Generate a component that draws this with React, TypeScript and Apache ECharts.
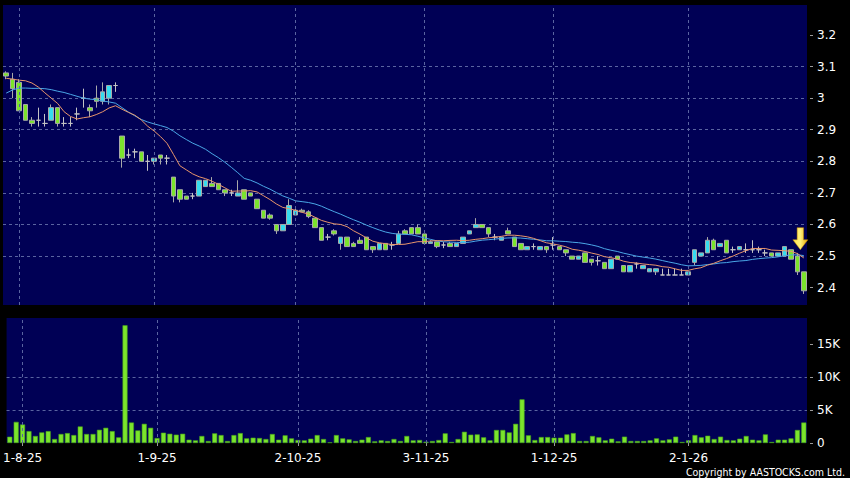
import React, { useEffect, useRef } from "react";
import * as echarts from "echarts";

// ---- Trading days (day numbers per month) ----
const jul25 = [30, 31];
const aug25 = [1, 4, 5, 6, 7, 8, 11, 12, 13, 14, 15, 18, 19, 20, 21, 22, 25, 26, 27, 28, 29];
const sep25 = [1, 2, 3, 4, 5, 8, 9, 10, 11, 12, 15, 16, 17, 18, 19, 22, 23, 24, 25, 26, 29, 30];
const oct25 = [2, 3, 6, 8, 9, 10, 13, 14, 15, 16, 17, 20, 21, 22, 23, 24, 27, 28, 30, 31];
const nov25 = [3, 4, 5, 6, 7, 10, 11, 12, 13, 14, 17, 18, 19, 20, 21, 24, 25, 26, 27, 28];
const dec25 = [1, 2, 3, 4, 5, 8, 9, 10, 11, 12, 15, 16, 17, 18, 19, 22, 23, 24, 29, 30, 31];
const jan26 = [2, 5, 6, 7, 8, 9, 12, 13, 14, 15, 16, 19, 20, 21, 22, 23, 26, 27, 28];

const categories: string[] = [
  ...jul25.map((d) => `${d}-7-25`),
  ...aug25.map((d) => `${d}-8-25`),
  ...sep25.map((d) => `${d}-9-25`),
  ...oct25.map((d) => `${d}-10-25`),
  ...nov25.map((d) => `${d}-11-25`),
  ...dec25.map((d) => `${d}-12-25`),
  ...jan26.map((d) => `${d}-1-26`),
];

const xTickLabels = ["1-8-25", "1-9-25", "2-10-25", "3-11-25", "1-12-25", "2-1-26"];
const priceTicks = [2.4, 2.5, 2.6, 2.7, 2.8, 2.9, 3.0, 3.1, 3.2];
const volumeTicks = [0, 5, 10, 15];

// ---- OHLC ----
const opens = [
  3.08, 3.06, 3.05, 2.98, 2.93, 2.93, 2.92, 2.93, 2.97, 2.92,
  2.92, 2.95, 3.0, 2.97, 3.0, 2.99, 3.0, 3.04, 2.88, 2.82,
  2.83, 2.83, 2.8, 2.8, 2.82, 2.81, 2.75, 2.71, 2.69, 2.69,
  2.69, 2.72, 2.73, 2.73, 2.71, 2.7, 2.69, 2.71, 2.7, 2.68,
  2.645, 2.63, 2.6, 2.58, 2.6, 2.63, 2.645, 2.64, 2.62, 2.59,
  2.56, 2.58, 2.54, 2.56, 2.54, 2.55, 2.56, 2.53, 2.52, 2.54,
  2.535, 2.54, 2.58, 2.59, 2.59, 2.57, 2.54, 2.545, 2.535, 2.54,
  2.53, 2.54, 2.57, 2.59, 2.6, 2.59, 2.56, 2.55, 2.58, 2.56,
  2.54, 2.52, 2.53, 2.52, 2.53, 2.535, 2.53, 2.52, 2.5, 2.49,
  2.51, 2.49, 2.485, 2.48, 2.46, 2.5, 2.47, 2.45, 2.475, 2.46,
  2.45, 2.45, 2.44, 2.44, 2.44, 2.44, 2.44, 2.48, 2.5, 2.51,
  2.55, 2.53, 2.55, 2.52, 2.52, 2.52, 2.52, 2.52, 2.51, 2.51,
  2.5, 2.5, 2.52, 2.5, 2.45,
];
const closes = [
  3.07, 3.03, 2.96, 2.93, 2.92, 2.93, 2.92, 2.97, 2.92, 2.92,
  2.92, 2.95, 3.0, 2.96, 2.99, 3.02, 3.04, 3.04, 2.81, 2.82,
  2.83, 2.8, 2.8, 2.81, 2.81, 2.81, 2.69, 2.68, 2.68, 2.69,
  2.74, 2.74, 2.72, 2.71, 2.7, 2.7, 2.7, 2.68, 2.69, 2.65,
  2.62, 2.62, 2.58, 2.6, 2.66, 2.645, 2.64, 2.625, 2.59, 2.55,
  2.56, 2.57, 2.56, 2.53, 2.53, 2.54, 2.52, 2.52, 2.54, 2.52,
  2.535, 2.57, 2.57, 2.57, 2.57, 2.54, 2.545, 2.53, 2.535, 2.53,
  2.54, 2.56, 2.58, 2.6, 2.59, 2.57, 2.56, 2.56, 2.57, 2.53,
  2.52, 2.53, 2.53, 2.53, 2.52, 2.535, 2.52, 2.51, 2.49, 2.5,
  2.48, 2.48, 2.485, 2.46, 2.49, 2.49, 2.45, 2.47, 2.475, 2.47,
  2.46, 2.46, 2.44, 2.44, 2.44, 2.44, 2.45, 2.52, 2.51, 2.55,
  2.52, 2.54, 2.51, 2.52, 2.53, 2.52, 2.52, 2.52, 2.51, 2.5,
  2.51, 2.53, 2.49, 2.45, 2.39,
];
const lows = [
  3.06, 3.0, 2.96, 2.93, 2.91, 2.91, 2.91, 2.93, 2.91, 2.91,
  2.91, 2.93, 2.97, 2.94, 2.97, 2.98, 2.98, 3.02, 2.78, 2.81,
  2.81, 2.8, 2.77, 2.79, 2.79, 2.79, 2.67, 2.67, 2.68, 2.68,
  2.69, 2.72, 2.72, 2.71, 2.69, 2.69, 2.69, 2.68, 2.69, 2.65,
  2.62, 2.615, 2.57, 2.58, 2.6, 2.63, 2.64, 2.62, 2.59, 2.55,
  2.55, 2.565, 2.52, 2.53, 2.53, 2.54, 2.52, 2.51, 2.52, 2.52,
  2.52, 2.54, 2.57, 2.57, 2.57, 2.54, 2.54, 2.525, 2.525, 2.53,
  2.53, 2.54, 2.57, 2.59, 2.59, 2.56, 2.55, 2.55, 2.57, 2.53,
  2.52, 2.52, 2.52, 2.52, 2.51, 2.52, 2.52, 2.5, 2.49, 2.49,
  2.48, 2.47, 2.47, 2.46, 2.46, 2.49, 2.45, 2.45, 2.46, 2.46,
  2.45, 2.44, 2.44, 2.44, 2.44, 2.44, 2.44, 2.47, 2.5, 2.51,
  2.52, 2.53, 2.51, 2.51, 2.52, 2.51, 2.51, 2.51, 2.5, 2.5,
  2.5, 2.5, 2.49, 2.44, 2.38,
];
const highs = [
  3.085, 3.08, 3.06, 2.98, 2.94, 2.97, 2.95, 2.98, 2.97, 2.94,
  2.94, 2.97, 3.03, 2.98, 3.04, 3.05, 3.04, 3.05, 2.88, 2.84,
  2.84, 2.83, 2.82, 2.81, 2.82, 2.82, 2.75, 2.71, 2.69, 2.7,
  2.74, 2.74, 2.75, 2.73, 2.71, 2.71, 2.74, 2.71, 2.7, 2.68,
  2.645, 2.635, 2.6, 2.6, 2.68, 2.65, 2.65, 2.645, 2.62, 2.59,
  2.57, 2.585, 2.56, 2.56, 2.545, 2.56, 2.56, 2.53, 2.54, 2.54,
  2.545, 2.58, 2.585, 2.59, 2.6, 2.57, 2.55, 2.545, 2.545, 2.545,
  2.54, 2.56, 2.58, 2.62, 2.6, 2.59, 2.57, 2.56, 2.59, 2.56,
  2.54, 2.53, 2.54, 2.53, 2.53, 2.56, 2.53, 2.52, 2.5, 2.5,
  2.51, 2.49, 2.5, 2.48, 2.49, 2.5, 2.47, 2.47, 2.48, 2.47,
  2.46, 2.46, 2.46, 2.46, 2.46, 2.46, 2.45, 2.52, 2.51, 2.56,
  2.555, 2.54, 2.55, 2.53, 2.53, 2.54, 2.55, 2.53, 2.52, 2.51,
  2.51, 2.53, 2.52, 2.51, 2.45,
];

// ---- Volume (thousands of shares) ----
const volumesK = [
  0.95, 3.2, 2.8, 1.8, 1.06, 1.6, 1.8, 0.6, 1.36, 1.5,
  1.2, 2.5, 1.36, 1.36, 2.0, 2.3, 1.8, 0.85, 17.8, 3.1,
  1.9, 2.9, 2.3, 0.75, 1.56, 1.4, 1.26, 1.4, 0.5, 0.4,
  1.06, 0.3, 1.46, 1.2, 0.3, 1.2, 1.5, 0.7, 0.8, 0.75,
  0.6, 1.36, 0.5, 1.16, 0.7, 0.45, 0.4, 0.65, 1.2, 0.6,
  0.1, 1.2, 0.7, 0.55, 0.3, 0.5, 0.9, 0.25, 0.4, 0.3,
  0.6, 0.3, 1.06, 0.4, 0.45, 0.2, 0.3, 0.45, 1.46, 0.15,
  0.6, 1.7, 1.26, 1.3, 0.86, 0.4, 1.97, 1.97, 1.6, 2.9,
  6.6, 1.16, 0.45, 0.9, 0.9, 0.8, 0.8, 1.3, 1.5, 0.3,
  0.3, 1.06, 0.86, 0.4, 0.65, 0.25, 0.96, 0.3, 0.3, 0.3,
  0.4, 0.7, 0.4, 0.55, 0.96, 0.15, 0.4, 1.2, 0.86, 1.1,
  0.6, 0.96, 0.45, 0.4, 0.65, 1.06, 0.5, 0.4, 1.3, 0.15,
  0.5, 0.5, 0.7, 1.97, 3.1,
];

// Moving-average values for the first bars (before a full window exists)
const ma10Lead = [3.063, 3.06, 3.057, 3.055, 3.048, 3.035, 3.017, 3.0, 2.983];
const ma20Lead = [
  3.016, 3.026, 3.032, 3.032, 3.031, 3.031, 3.03, 3.027, 3.022, 3.018,
  3.012, 3.006, 3.0, 2.997, 2.995, 2.991, 2.988, 2.984, 2.97,
];

function movingAverage(win: number, lead: number[]) {
  return closes.map((_, i) => {
    if (i < win - 1) return lead[i];
    let s = 0;
    for (let k = i - win + 1; k <= i; k++) s += closes[k];
    return +(s / win).toFixed(4);
  });
}

const NAVY = "#000055";
const LIME = "#7be42c";
const CYAN = "#36dcef";
const GRID = "#5a64a0";
const FONT = "DejaVu Sans";

export default function App() {
  const ref = useRef<HTMLDivElement>(null);

  useEffect(() => {
    document.body.style.margin = "0";
    document.body.style.background = "#000";
    if (!ref.current) return;
    const chart = echarts.init(ref.current, null, { renderer: "svg" });

    const ma10 = movingAverage(10, ma10Lead);
    const ma20 = movingAverage(20, ma20Lead);
    const candleData = categories.map((_, i) => [opens[i], closes[i], lows[i], highs[i]]);
    const showLabel = (_i: number, v: string) => xTickLabels.includes(v);

    const gridLine = { color: GRID, width: 1, type: [3, 3] as number[] };
    const vLines = {
      silent: true,
      symbol: ["none", "none"],
      label: { show: false },
      lineStyle: gridLine,
      emphasis: { disabled: true },
      data: xTickLabels.map((l) => ({ xAxis: l })),
    };

    const arrowGradient = new echarts.graphic.LinearGradient(0, 0, 1, 0, [
      { offset: 0, color: "#ffe14a" },
      { offset: 0.5, color: "#fff07a" },
      { offset: 1, color: "#e8a800" },
    ]);

    chart.setOption({
      animation: false,
      backgroundColor: "#000000",
      textStyle: { fontFamily: FONT },
      grid: [
        { left: 3, top: 5, width: 804, height: 300, show: true, backgroundColor: NAVY, borderWidth: 0 },
        { left: 3, top: 318, width: 804, height: 125, show: true, backgroundColor: NAVY, borderWidth: 0 },
      ],
      xAxis: [
        {
          type: "category",
          gridIndex: 0,
          data: categories,
          boundaryGap: true,
          axisLine: { show: false },
          axisTick: { show: false },
          axisLabel: { show: false },
          splitLine: { show: false },
        },
        {
          type: "category",
          gridIndex: 1,
          data: categories,
          boundaryGap: true,
          offset: 3,
          axisLine: { show: false },
          axisTick: {
            show: true,
            alignWithLabel: true,
            interval: showLabel,
            length: 3,
            lineStyle: { color: "#9a9a9a" },
          },
          axisLabel: {
            interval: showLabel,
            color: "#ffffff",
            fontFamily: FONT,
            fontSize: 12,
            margin: 6,
          },
          splitLine: { show: false },
        },
      ],
      yAxis: [
        {
          type: "value",
          gridIndex: 0,
          position: "right",
          min: 2.345,
          max: 3.295,
          splitNumber: 10,
          offset: 3,
          axisLine: { show: false },
          axisTick: { show: true, length: 3, customValues: priceTicks, lineStyle: { color: "#9a9a9a" } },
          axisLabel: {
            customValues: priceTicks,
            color: "#ffffff",
            fontFamily: FONT,
            fontSize: 12,
            margin: 7,
            formatter: (v: number) => String(+v.toFixed(1)),
          },
          splitLine: { show: true, showMinLine: false, showMaxLine: false, lineStyle: gridLine },
        },
        {
          type: "value",
          gridIndex: 1,
          position: "right",
          min: 0,
          max: 18.9,
          interval: 5,
          offset: 3,
          axisLine: { show: false },
          axisTick: { show: true, length: 3, customValues: volumeTicks, lineStyle: { color: "#9a9a9a" } },
          axisLabel: {
            customValues: volumeTicks,
            color: "#ffffff",
            fontFamily: FONT,
            fontSize: 12,
            margin: 7,
            showMinLabel: true,
            showMaxLabel: true,
            formatter: (v: number) => (v === 0 ? "0" : `${v}K`),
          },
          splitLine: { show: true, showMinLine: false, showMaxLine: false, lineStyle: gridLine },
        },
      ],
      series: [
        { type: "line", xAxisIndex: 0, yAxisIndex: 0, data: [], z: 1, silent: true, markLine: vLines },
        { type: "line", xAxisIndex: 1, yAxisIndex: 1, data: [], z: 1, silent: true, markLine: vLines },
        {
          type: "bar",
          xAxisIndex: 1,
          yAxisIndex: 1,
          data: volumesK,
          barWidth: 5,
          itemStyle: { color: LIME, borderColor: "#4aa81a", borderWidth: 0.6 },
          z: 2,
        },
        {
          type: "candlestick",
          xAxisIndex: 0,
          yAxisIndex: 0,
          data: candleData,
          barWidth: 5,
          itemStyle: {
            color: CYAN,
            color0: LIME,
            borderColor: "#a9a9a9",
            borderColor0: "#a9a9a9",
            borderColorDoji: "#c4c4c4",
            borderWidth: 1,
          },
          z: 2,
          markPoint: {
            silent: true,
            symbol: "path://M4,0 L10,0 L10,11 L14,11 L7,20 L0,11 L4,11 Z",
            symbolSize: [15, 22],
            symbolOffset: [3, 0],
            label: { show: false },
            itemStyle: { color: arrowGradient, borderColor: "#c88a00", borderWidth: 0.5 },
            data: [{ coord: [categories[123], 2.555] }],
          },
        },
        {
          type: "line",
          xAxisIndex: 0,
          yAxisIndex: 0,
          data: ma20,
          symbol: "none",
          showSymbol: false,
          lineStyle: { color: "#4aa6e6", width: 1 },
          z: 3,
        },
        {
          type: "line",
          xAxisIndex: 0,
          yAxisIndex: 0,
          data: ma10,
          symbol: "none",
          showSymbol: false,
          lineStyle: { color: "#e8956c", width: 1 },
          z: 4,
        },
      ],
      graphic: [
        {
          type: "text",
          right: 5,
          bottom: 1,
          style: {
            text: "Copyright by AASTOCKS.com Ltd.",
            fill: "#ffffff",
            fontSize: 10.5,
            fontFamily: '"DejaVu Sans Condensed", "DejaVu Sans", sans-serif',
          },
        },
      ],
    });

    return () => chart.dispose();
  }, []);

  return <div ref={ref} style={{ width: 850, height: 478, background: "#000" }} />;
}
